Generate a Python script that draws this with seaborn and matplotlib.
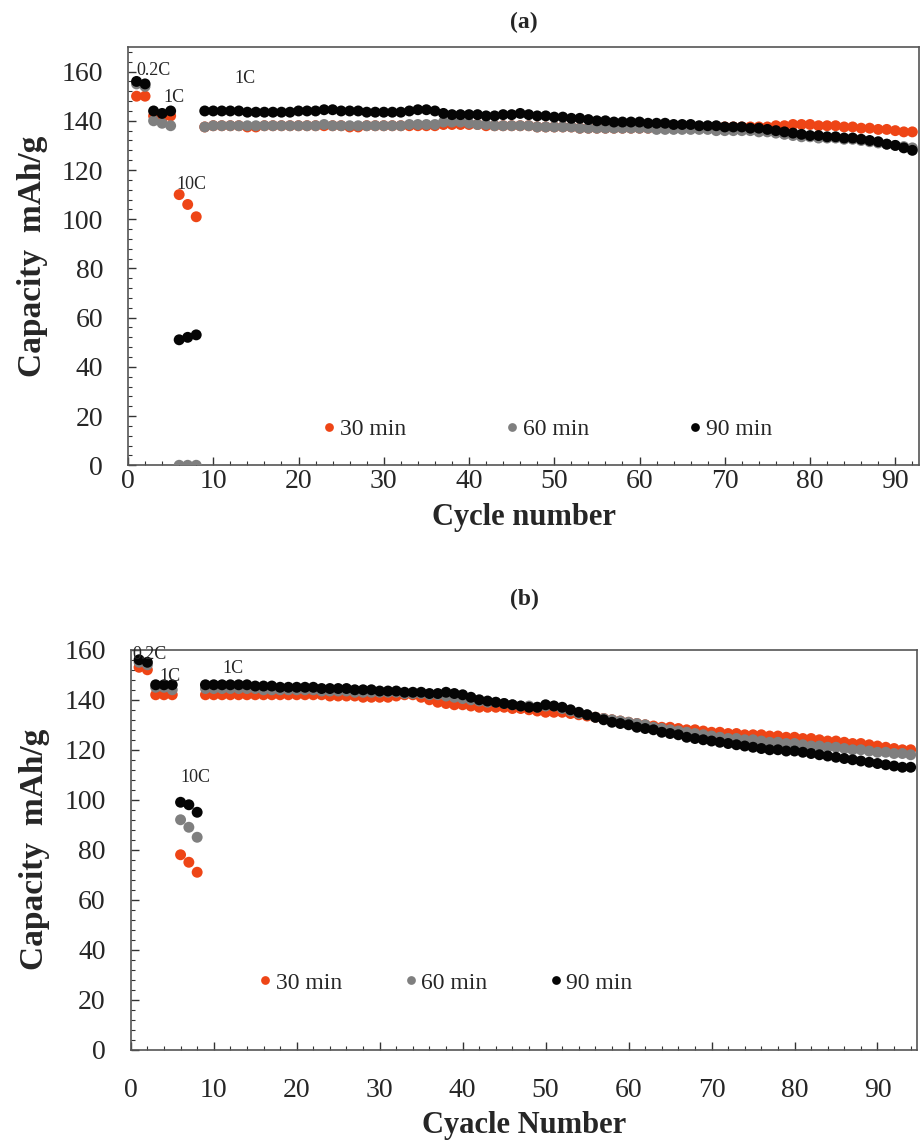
import numpy as np
import pandas as pd
import matplotlib
matplotlib.use("Agg")
import matplotlib.pyplot as plt
import seaborn as sns
from matplotlib.ticker import MultipleLocator

sns.set_theme(style="white")
plt.rcParams['font.family'] = ['Liberation Serif', 'DejaVu Serif']

series_labels = ["30 min", "60 min", "90 min"]
series_colors = ["#EE4516", "#7F7F7F", "#050505"]

# ---------------- panel (a) ----------------
cycles_a = list(range(1, 93))
a_30 = [150, 150,
        142, 141, 142,
        110, 106, 101,
        137.5, 138,
        138, 138, 138, 137.5, 137.5, 138, 138, 138, 138, 138,
        138, 138, 138, 138, 138, 137.5, 137.5, 138, 138, 138,
        138, 138, 138, 138, 138, 138, 138.5, 138.5, 138.5, 138.5,
        138.5, 138, 138, 138, 138, 138, 138, 137.5, 137.5, 137.5,
        137.5, 137.5, 137, 137, 137, 137, 137, 137, 137, 137,
        137, 137, 137, 137, 137.5, 137.5, 137.5, 137.5, 137.5, 137.5,
        137.5, 137.5, 137.5, 137.5, 137.5, 138, 138, 138.5, 138.5, 138.5,
        138, 138, 138, 137.5, 137.5, 137, 137, 136.5, 136.5, 136,
        135.5, 135.5]
a_60 = [155, 154,
        140, 139, 138,
        0, 0, 0,
        137.5, 138,
        138, 138, 138, 138, 138, 138, 138, 138, 138, 138,
        138, 138, 138.5, 138, 138, 138, 138, 138, 138, 138,
        138, 138, 138.5, 138.5, 138.5, 138.5, 139.5, 139.5, 139.5, 139,
        138.5, 138.5, 138, 138, 138, 138, 138, 137.5, 137.5, 137.5,
        137.5, 137.5, 137, 137, 137, 137, 137, 137, 137, 137,
        137, 136.5, 136.5, 136.5, 136.5, 136.5, 136.5, 136.5, 136, 136,
        136, 136, 136, 135.5, 135.5, 135, 134.5, 134, 133.5, 133.5,
        133, 133, 133, 132.5, 132.5, 132, 131.5, 131, 130.5, 130,
        129.5, 129]
a_90 = [156, 155,
        144, 143, 144,
        51, 52, 53,
        144, 144,
        144, 144, 144, 143.5, 143.5, 143.5, 143.5, 143.5, 143.5, 144,
        144, 144, 144.5, 144.5, 144, 144, 144, 143.5, 143.5, 143.5,
        143.5, 143.5, 144, 144.5, 144.5, 144, 143, 142.5, 142.5, 142.5,
        142.5, 142, 142, 142.5, 142.5, 143, 142.5, 142, 142, 141.5,
        141.5, 141, 141, 140.5, 140, 140, 139.5, 139.5, 139.5, 139.5,
        139, 139, 139, 138.5, 138.5, 138.5, 138, 138, 138, 137.5,
        137.5, 137.5, 137, 137, 136.5, 136, 135.5, 135, 134.5, 134,
        134, 133.5, 133.5, 133, 133, 132.5, 132, 131.5, 130.5, 130,
        129, 128]

# ---------------- panel (b) ----------------
cycles_b = list(range(1, 95))
b_30 = [153, 152,
        142, 142, 142,
        78, 75, 71,
        142, 142,
        142, 142, 142, 142, 142, 142, 142, 142, 142, 142,
        142, 142, 142, 141.5, 141.5, 141.5, 141.5, 141, 141, 141,
        141, 141.5, 142, 142, 141, 140, 139, 138.5, 138, 138,
        137.5, 137, 137, 137, 137, 136.5, 136.5, 136, 135.5, 135,
        135, 135, 134.5, 134, 133.5, 133, 132.5, 132, 131.5, 131,
        130.5, 130, 129.5, 129, 129, 128.5, 128, 128, 127.5, 127,
        127, 126.5, 126.5, 126, 126, 126, 125.5, 125.5, 125, 125,
        124.5, 124.5, 124, 123.5, 123.5, 123, 122.5, 122.5, 122, 121.5,
        121, 120.5, 120, 120]
b_60 = [155, 154,
        145, 145, 144,
        92, 89, 85,
        144.5, 144.5,
        144.5, 144.5, 144.5, 144.5, 144.5, 144, 144, 144, 144, 144,
        144, 144, 143.5, 143.5, 143.5, 143.5, 143, 143, 143, 143,
        143, 143, 142.5, 142.5, 142.5, 142, 142, 141.5, 141, 140.5,
        140, 139.5, 139, 139, 138.5, 138, 137.5, 137.5, 137, 137.5,
        137.5, 136.5, 135.5, 134.5, 134, 133, 132.5, 132, 131.5, 131,
        130.5, 130, 129, 128.5, 128, 127.5, 127, 126.5, 126, 125.5,
        125, 124.5, 124.5, 124, 124, 123.5, 123, 123, 122.5, 122.5,
        122, 121.5, 121.5, 121, 121, 120.5, 120, 120, 119.5, 119,
        119, 118.5, 118.5, 118]
b_90 = [156, 155,
        146, 146, 146,
        99, 98, 95,
        146, 146,
        146, 146, 146, 146, 145.5, 145.5, 145.5, 145, 145, 145,
        145, 145, 144.5, 144.5, 144.5, 144.5, 144, 144, 144, 143.5,
        143.5, 143.5, 143, 143, 143, 142.5, 142.5, 143, 142.5, 142,
        141, 140, 139.5, 139, 138.5, 138, 137.5, 137, 137, 138,
        137.5, 137, 136, 135, 134, 133, 132, 131, 130.5, 130,
        129, 128.5, 128, 127, 126.5, 126, 125, 124.5, 124, 123.5,
        123, 122.5, 122, 121.5, 121, 120.5, 120, 120, 119.5, 119.5,
        119, 118.5, 118, 117.5, 117, 116.5, 116, 115.5, 115, 114.5,
        114, 113.5, 113, 113]

y_ticks = [0, 20, 40, 60, 80, 100, 120, 140, 160]
x_ticks = [0, 10, 20, 30, 40, 50, 60, 70, 80, 90]


def make_df(cycles, lists):
    frames = []
    for lab, vals in zip(series_labels, lists):
        frames.append(pd.DataFrame({"cycle": cycles[:len(vals)],
                                    "cap": vals, "series": lab}))
    return pd.concat(frames, ignore_index=True)


df_a = make_df(cycles_a, [a_30, a_60, a_90])
df_b = make_df(cycles_b, [b_30, b_60, b_90])

fig = plt.figure(figsize=(9.21, 11.46), dpi=100)
ax1 = fig.add_axes([0.139, 0.594, 0.859, 0.365])
ax2 = fig.add_axes([0.142, 0.084, 0.854, 0.349])

palette = dict(zip(series_labels, series_colors))

panels = [
    dict(ax=ax1, df=df_a, title="(a)", xlabel="Cycle number", xlim=(0, 92.8),
         ylim=(0, 170), leg=(0.53, 0.085), colsp=4.2, xpad=3, tpad=14,
         notes=[("0.2C", 1.0, 160.5), ("1C", 4.2, 149.5),
                ("1C", 12.5, 157), ("10C", 5.7, 114)]),
    dict(ax=ax2, df=df_b, title="(b)", xlabel="Cyacle Number", xlim=(0, 94.8),
         ylim=(0, 160), leg=(0.40, 0.167), colsp=2.6, xpad=20, tpad=32,
         notes=[("0.2C", 0.2, 158.3), ("1C", 3.4, 149.5),
                ("1C", 11.0, 152.5), ("10C", 6.0, 109)]),
]

for p in panels:
    ax = p["ax"]
    sns.scatterplot(data=p["df"], x="cycle", y="cap", hue="series",
                    palette=palette, s=62, linewidth=0, ax=ax,
                    legend=True, zorder=3)
    ax.set_xlim(*p["xlim"])
    ax.set_ylim(*p["ylim"])
    ax.set_xticks(x_ticks)
    ax.set_yticks(y_ticks)
    ax.xaxis.set_minor_locator(MultipleLocator(2))
    ax.yaxis.set_minor_locator(MultipleLocator(4))
    ax.tick_params(axis="both", which="major", direction="in", length=6,
                   width=1, labelsize=20, color="#333333")
    ax.tick_params(axis="x", which="major", pad=p["xpad"])
    ax.tick_params(axis="y", which="major", pad=18)
    ax.tick_params(axis="both", which="minor", direction="in", length=3,
                   width=0.8, color="#333333")
    ax.tick_params(bottom=True, left=True, which="both")
    for sp in ax.spines.values():
        sp.set_color("#555555")
        sp.set_linewidth(1.2)
    ax.set_xlabel(p["xlabel"], fontsize=22, fontweight="bold", labelpad=6)
    ax.set_ylabel("Capacity  mAh/g", fontsize=24, fontweight="bold", labelpad=10)
    ax.set_title(p["title"], fontsize=17, fontweight="bold", pad=p["tpad"])
    for txt, x, y in p["notes"]:
        ax.text(x, y, txt, fontsize=13, ha="left", va="center", zorder=5)
    handles, labels = ax.get_legend_handles_labels()
    ax.legend(handles, labels, loc="center", bbox_to_anchor=p["leg"],
              ncol=3, frameon=False, fontsize=17, markerscale=0.8,
              handlelength=0.6, handletextpad=0.15, columnspacing=p["colsp"])

fig.savefig("out.png", dpi=100)
